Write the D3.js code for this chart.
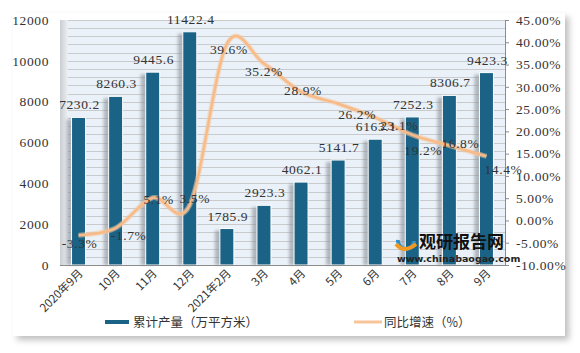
<!DOCTYPE html>
<html><head><meta charset="utf-8">
<script src="https://cdn.jsdelivr.net/npm/d3@7"></script>
<style>
body{margin:0;background:#fff;}
text{font-family:"Liberation Serif","DejaVu Serif",serif;}
.cjk{font-family:"Noto Sans CJK SC","Noto Sans",sans-serif;}
</style></head>
<body><div id="chart"></div>
<script>
const categories = ["2020年9月","10月","11月","12月","2021年2月","3月","4月","5月","6月","7月","8月","9月"];
const output = [7230.2,8260.3,9445.6,11422.4,1785.9,2923.3,4062.1,5141.7,6163.1,7252.3,8306.7,9423.3];
const growth = [-3.3,-1.7,5.1,3.5,39.6,35.2,28.9,26.2,23.1,19.2,16.8,14.4];
const leftTicks = [0,2000,4000,6000,8000,10000,12000];
const rightTicks = [-10,-5,0,5,10,15,20,25,30,35,40,45];
const seriesNames = ["累计产量（万平方米）","同比增速（%）"];
// label offsets for line labels (style only)
const lineLabelOffset = [[1,8],[13,7],[6,1],[5,-7],[2,5],[0,7],[2,-2],[19,10],[24,7],[11,15],[11,-3],[17,13]];

(function(){
const W=580,H=353;
const svg=d3.select("#chart").append("svg").attr("width",W).attr("height",H);
const defs=svg.append("defs");
const f=defs.append("filter").attr("id","panelShadow").attr("x","-5%").attr("y","-5%").attr("width","115%").attr("height","115%");
f.append("feGaussianBlur").attr("in","SourceAlpha").attr("stdDeviation",3);
f.append("feOffset").attr("dx",4).attr("dy",4).attr("result","ob");
f.append("feFlood").attr("flood-color","#000").attr("flood-opacity",0.25);
f.append("feComposite").attr("in2","ob").attr("operator","in");
const fm=f.append("feMerge");fm.append("feMergeNode");fm.append("feMergeNode").attr("in","SourceGraphic");
const bf=defs.append("filter").attr("id","barBlur").attr("x","-50%").attr("width","200%");
bf.append("feGaussianBlur").attr("stdDeviation",1.5);
const wg=defs.append("linearGradient").attr("id","wallGrad");
wg.append("stop").attr("offset","0%").attr("stop-color","#c9ccd0");
wg.append("stop").attr("offset","100%").attr("stop-color","#eef1f4");

svg.append("rect").attr("x",13).attr("y",13).attr("width",552).attr("height",323).attr("fill","#fff").attr("filter","url(#panelShadow)");

const pL=60,pR=505,pT=20,pB=265;
const x=d3.scaleBand().domain(categories).range([pL,pR]).paddingInner(0).paddingOuter(0);
const y=d3.scaleLinear().domain([0,12000]).range([pB,pT]);
const y2=d3.scaleLinear().domain([-10,45]).range([pB,pT]);

svg.append("rect").attr("x",pL).attr("y",pT).attr("width",pR-pL).attr("height",pB-pT).attr("fill","#eaf1f8");
svg.append("g").selectAll("line").data(d3.range(0,12001,400)).join("line")
  .attr("x1",pL).attr("x2",pR).attr("y1",d=>Math.round(y(d))+0.5).attr("y2",d=>Math.round(y(d))+0.5)
  .attr("stroke","#c8cacc").attr("stroke-width",1);
svg.append("rect").attr("x",pL).attr("y",pT).attr("width",8).attr("height",pB-pT).attr("fill","url(#wallGrad)");

const bw=14;
const cx=d=>x(d)+x.bandwidth()/2;
svg.append("g").selectAll("rect").data(output).join("rect")
  .attr("x",(d,i)=>cx(categories[i])-bw/2-5).attr("y",d=>y(d)+2).attr("width",bw).attr("height",d=>pB-y(d)-2)
  .attr("fill","#8a9098").attr("opacity",0.6).attr("filter","url(#barBlur)");
svg.append("g").selectAll("rect").data(output).join("rect")
  .attr("x",(d,i)=>cx(categories[i])-bw/2).attr("y",d=>y(d)).attr("width",bw).attr("height",d=>pB-y(d))
  .attr("fill","#1a6386").attr("stroke","#fff").attr("stroke-width",1);

svg.append("line").attr("x1",pL).attr("x2",pR).attr("y1",pB+0.5).attr("y2",pB+0.5).attr("stroke","#8c8c8c");
const ax2=svg.append("g").attr("transform",`translate(${pR},0)`)
  .call(d3.axisRight(y2).tickValues(rightTicks).tickSize(4).tickFormat(d=>d.toFixed(2)+"%"));
ax2.select(".domain").attr("stroke","#8c8c8c");
ax2.selectAll(".tick line").attr("stroke","#8c8c8c");
ax2.selectAll("text").attr("x",11).attr("font-size",13.5).attr("fill","#333").attr("letter-spacing",0.6)
  .style("font-family","'Liberation Serif',serif");
const ax1=svg.append("g").attr("transform",`translate(${pL},0)`)
  .call(d3.axisLeft(y).tickValues(leftTicks).tickSize(0).tickFormat(d=>d));
ax1.select(".domain").remove();
ax1.selectAll("text").attr("x",-11).attr("font-size",13.5).attr("fill","#333").attr("letter-spacing",0.6)
  .style("font-family","'Liberation Serif',serif");

const line=d3.line().x((d,i)=>cx(categories[i])).y(d=>y2(d)).curve(d3.curveCatmullRom.alpha(0));
svg.append("path").datum(growth).attr("d",line).attr("fill","none").attr("stroke","#f3c9a2").attr("stroke-width",5).attr("opacity",0.55);
svg.append("path").datum(growth).attr("d",line).attr("fill","none").attr("stroke","#f8ba86").attr("stroke-width",2.5);

svg.append("g").selectAll("text").data(output).join("text")
  .attr("x",(d,i)=>cx(categories[i])+1).attr("y",d=>y(d)-8).attr("text-anchor","middle")
  .attr("font-size",13.5).attr("letter-spacing",0.6).attr("fill","#333").text(d=>d.toFixed(1));
svg.append("g").selectAll("text").data(growth).join("text")
  .attr("x",(d,i)=>cx(categories[i])+lineLabelOffset[i][0]).attr("y",(d,i)=>y2(d)+lineLabelOffset[i][1]+5)
  .attr("text-anchor","middle").attr("font-size",13.5).attr("letter-spacing",0.6).attr("fill","#333").text(d=>d.toFixed(1)+"%");

svg.append("g").selectAll("text").data(categories).join("text")
  .attr("class","cjk").attr("text-anchor","end").attr("font-size",11.5).attr("fill","#333")
  .attr("transform",d=>`translate(${cx(d)+5},${pB+9}) rotate(-45)`).text(d=>d);

const wm=svg.append("g");
wm.append("circle").attr("cx",406).attr("cy",241).attr("r",8).attr("fill","none").attr("stroke","#2b8fc9").attr("stroke-width",4).attr("stroke-dasharray","26 30");
wm.append("path").attr("d","M396,244 Q404,254 416,244").attr("fill","none").attr("stroke","#f39a1e").attr("stroke-width",4);
wm.append("text").attr("class","cjk").attr("x",419).attr("y",248).attr("font-size",17).attr("font-weight","bold").attr("fill","#111").text("观研报告网");
wm.append("text").attr("x",397).attr("y",262).attr("font-size",9.5).attr("font-weight","bold").attr("fill","#222")
  .style("font-family","'DejaVu Sans',sans-serif").text("www.chinabaogao.com");

const lg=svg.append("g");
lg.append("rect").attr("x",105).attr("y",320).attr("width",24).attr("height",4).attr("fill","#1a6386");
lg.append("text").attr("class","cjk").attr("x",133).attr("y",327).attr("font-size",12.5).attr("fill","#333").text(seriesNames[0]);
lg.append("line").attr("x1",354).attr("x2",382).attr("y1",322).attr("y2",322).attr("stroke","#f8c49a").attr("stroke-width",3);
lg.append("text").attr("class","cjk").attr("x",384).attr("y",327).attr("font-size",12.5).attr("fill","#333").text(seriesNames[1]);
})();
</script></body></html>
